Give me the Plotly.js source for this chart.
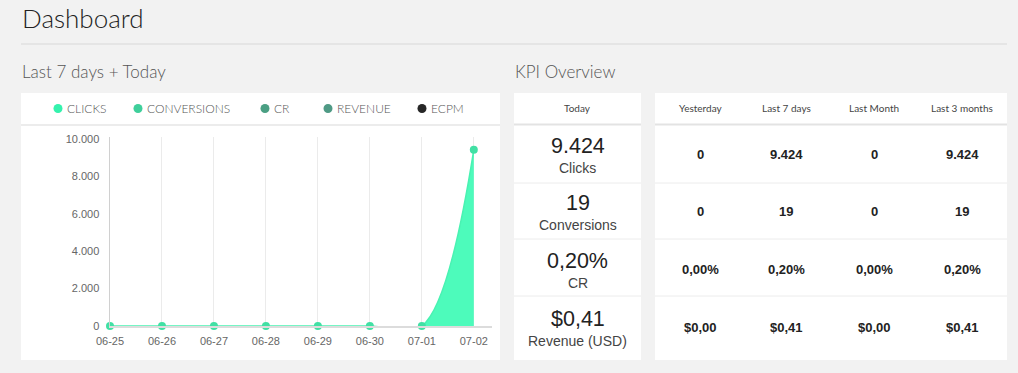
<!DOCTYPE html>
<html>
<head>
<meta charset="utf-8">
<script src="https://cdn.plot.ly/plotly-3.0.1.min.js"></script>
<style>
  html, body { margin: 0; padding: 0; background: #f2f2f2; }
  #chart { width: 1018px; height: 373px; }
</style>
</head>
<body>
<div id="chart"></div>
<script>
// ---------- DATA ----------
const dates = ['06-25', '06-26', '06-27', '06-28', '06-29', '06-30', '07-01', '07-02'];
const clicks = [0, 0, 0, 0, 0, 0, 0, 9424];
const yTicks = [0, 2000, 4000, 6000, 8000, 10000];

const legendNames = ['CLICKS', 'CONVERSIONS', 'CR', 'REVENUE', 'ECPM'];

const kpiNames = ['Clicks', 'Conversions', 'CR', 'Revenue (USD)'];
const kpiKinds = ['int', 'int', 'pct', 'usd'];
const todayValues = [9424, 19, 0.20, 0.41];
const periodNames = ['Yesterday', 'Last 7 days', 'Last Month', 'Last 3 months'];
const yesterdayValues = [0, 0, 0.00, 0.00];
const last7Values = [9424, 19, 0.20, 0.41];
const lastMonthValues = [0, 0, 0.00, 0.00];
const last3MonthsValues = [9424, 19, 0.20, 0.41];

// ---------- STYLE / LAYOUT ----------
const W = 1018, H = 373;
const X = p => p / W;
const Y = p => 1 - p / H;
const headFont = 'Lato, "Open Sans", sans-serif';
const numFont = '"Liberation Sans", Arial, sans-serif';
const legendColors = ['#34f2ad', '#3fcf9b', '#4a9f83', '#4f9a85', '#262626'];
const legendDotX = [58, 138, 265, 328, 422];
const rowCenters = [154, 211, 269, 327];
const rowLines = [183, 239, 296];
const colCenters = [700, 786, 874, 962];
const todayCenter = 577.5;

function fmt(v, kind) {
  const sep = (s) => s.replace(/\B(?=(\d{3})+(?!\d))/g, '.');
  if (kind === 'int') return sep(String(Math.round(v)));
  if (kind === 'pct') return v.toFixed(2).replace('.', ',') + '%';
  if (kind === 'usd') return '$' + v.toFixed(2).replace('.', ',');
  return String(v);
}

function ann(text, x, y, font, extra) {
  return Object.assign({
    text: text, x: X(x), y: Y(y), xref: 'paper', yref: 'paper',
    showarrow: false, xanchor: 'center', yanchor: 'middle', borderpad: 0,
    font: font
  }, extra || {});
}
function rect(x0, y0, x1, y1, fill) {
  return { type: 'rect', xref: 'paper', yref: 'paper', x0: X(x0), x1: X(x1), y0: Y(y0), y1: Y(y1),
           fillcolor: fill, line: { width: 0 }, layer: 'below' };
}
function hline(x0, x1, y, color, width) {
  return { type: 'line', xref: 'paper', yref: 'paper', x0: X(x0), x1: X(x1), y0: Y(y), y1: Y(y),
           line: { color: color, width: width }, layer: 'below' };
}

const shapes = [];
const annotations = [];

// page header
shapes.push(hline(21, 1007, 44, '#d8d8d8', 1));
annotations.push(ann('Dashboard', 21, 18, { family: headFont, size: 26, color: '#222', weight: 300 }, { xanchor: 'left' }));
annotations.push(ann('Last 7 days + Today', 21, 71, { family: headFont, size: 17, color: '#555', weight: 300 }, { xanchor: 'left' }));
annotations.push(ann('KPI Overview', 514, 71, { family: headFont, size: 17, color: '#555', weight: 300 }, { xanchor: 'left' }));

// cards
shapes.push(rect(21, 93, 500, 360, '#ffffff'));
shapes.push(hline(21, 500, 125, '#ececec', 2));
shapes.push(rect(514, 93, 641, 360, '#ffffff'));
shapes.push(rect(655, 93, 1007, 360, '#ffffff'));
shapes.push(hline(514, 641, 124.5, '#e3e3e3', 2));
shapes.push(hline(655, 1007, 124.5, '#e3e3e3', 2));
rowLines.forEach(y => {
  shapes.push(hline(514, 641, y, '#ececec', 1));
  shapes.push(hline(655, 1007, y, '#ececec', 1));
});

// legend
legendNames.forEach((name, i) => {
  shapes.push({ type: 'circle', xref: 'paper', yref: 'paper', xsizemode: 'pixel', ysizemode: 'pixel',
    xanchor: X(legendDotX[i]), yanchor: Y(108.5), x0: -4.5, x1: 4.5, y0: -4.5, y1: 4.5,
    fillcolor: legendColors[i], line: { width: 0 } });
  annotations.push(ann(name, legendDotX[i] + 8, 108.5, { family: headFont, size: 12, color: '#555', weight: 300 }, { xanchor: 'left' }));
});

// KPI tables
annotations.push(ann('Today', todayCenter, 108, { family: headFont, size: 10, color: '#444' }));
periodNames.forEach((p, j) => annotations.push(ann(p, colCenters[j], 108, { family: headFont, size: 10, color: '#444' })));
const periodValues = [yesterdayValues, last7Values, lastMonthValues, last3MonthsValues];
kpiNames.forEach((name, i) => {
  const cy = rowCenters[i];
  annotations.push(ann(fmt(todayValues[i], kpiKinds[i]), todayCenter, cy - 8, { family: numFont, size: 21.5, color: '#222' }));
  annotations.push(ann(name, todayCenter, cy + 14, { family: numFont, size: 14, color: '#444' }));
  periodValues.forEach((vals, j) => {
    annotations.push(ann('<b>' + fmt(vals[i], kpiKinds[i]) + '</b>', colCenters[j], cy, { family: numFont, size: 13, color: '#222' }));
  });
});

const traces = [{
  type: 'scatter', x: dates, y: clicks, mode: 'lines+markers',
  line: { shape: 'spline', smoothing: 1, color: '#49f2b2', width: 1.5 },
  fill: 'tozeroy', fillcolor: '#4dfbbb',
  marker: { size: 8, color: '#41e0a4' },
  cliponaxis: false, showlegend: false, hoverinfo: 'skip'
}];

const layout = {
  width: W, height: H,
  margin: { l: 0, r: 0, t: 0, b: 0 },
  paper_bgcolor: '#f2f2f2', plot_bgcolor: 'rgba(0,0,0,0)',
  separators: ',.',
  showlegend: false,
  xaxis: {
    type: 'category', domain: [X(110), X(492)], range: [0, 7.35],
    showgrid: true, gridcolor: '#ebebeb', gridwidth: 1,
    showline: true, linecolor: '#dcdcdc', linewidth: 1.5,
    zeroline: false, ticks: '', ticklabelstandoff: 4,
    tickfont: { family: numFont, size: 11, color: '#666' }, fixedrange: true
  },
  yaxis: {
    domain: [Y(326), Y(137)], range: [0, 10100],
    tickvals: yTicks, tickformat: ',d',
    showgrid: false, zeroline: false,
    showline: true, linecolor: '#d0d0d0', linewidth: 1.5,
    ticks: '', ticklabelstandoff: 7,
    tickfont: { family: numFont, size: 11, color: '#666' }, fixedrange: true
  },
  shapes: shapes,
  annotations: annotations
};

Plotly.newPlot('chart', traces, layout, { displayModeBar: false, staticPlot: true });
</script>
</body>
</html>
